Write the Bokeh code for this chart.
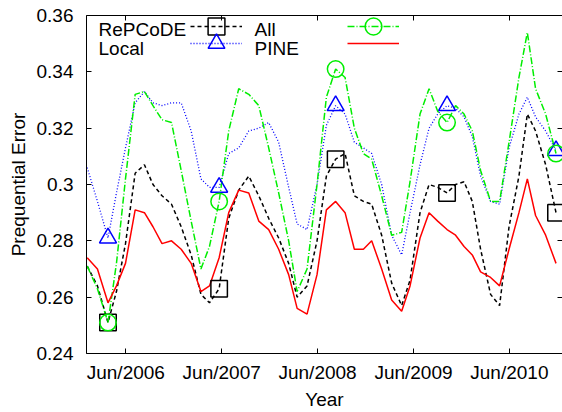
from bokeh.plotting import figure
from bokeh.models import (Range1d, FixedTicker, LinearAxis, NumeralTickFormatter,
                          Legend, LegendItem, Label, ColumnDataSource,
                          CustomLabelingPolicy)
from bokeh.core.properties import value
from bokeh.embed import file_html
from bokeh.resources import INLINE

# x: months since Jan 2006
months = [0.17, 1.45, 2.77, 3.83, 4.96, 6.17, 7.33, 8.40, 9.53, 10.72,
          11.93, 13.18, 14.40, 15.47, 16.68, 17.88, 19.13, 20.39, 21.64, 22.88,
          24.13, 25.38, 26.44, 27.68, 28.93, 30.10, 31.26, 32.44, 33.60, 34.73,
          35.77, 37.02, 38.27, 39.52, 40.57, 41.82, 42.95, 44.03, 45.20, 46.27,
          47.33, 48.36, 49.40, 50.65, 51.78, 52.96, 54.20, 55.25, 56.28, 57.54,
          58.84]

repcode = [0.271, 0.264, 0.251, 0.262, 0.279, 0.304, 0.307, 0.300, 0.296, 0.293,
           0.285, 0.275, 0.261, 0.258, 0.263, 0.288, 0.298, 0.303, 0.296, 0.288,
           0.281, 0.272, 0.260, 0.264, 0.280, 0.303, 0.309, 0.311, 0.296, 0.294,
           0.293, 0.282, 0.265, 0.257, 0.266, 0.290, 0.300, 0.299, 0.297, 0.300,
           0.301, 0.294, 0.277, 0.261, 0.257, 0.285, 0.303, 0.325, 0.319, 0.307,
           0.290]

local = [0.306, 0.294, 0.281, 0.297, 0.313, 0.329, 0.333, 0.329, 0.328, 0.329,
         0.329, 0.319, 0.302, 0.299, 0.299, 0.311, 0.313, 0.319, 0.320, 0.322,
         0.315, 0.299, 0.286, 0.284, 0.300, 0.321, 0.328, 0.325, 0.315, 0.313,
         0.311, 0.300, 0.282, 0.275, 0.290, 0.307, 0.320, 0.325, 0.328, 0.327,
         0.324, 0.317, 0.303, 0.294, 0.293, 0.313, 0.325, 0.331, 0.324, 0.319,
         0.312]

all_ = [0.271, 0.263, 0.251, 0.272, 0.302, 0.332, 0.333, 0.328, 0.323, 0.322,
        0.305, 0.287, 0.270, 0.278, 0.294, 0.319, 0.334, 0.332, 0.328, 0.313,
        0.297, 0.280, 0.262, 0.270, 0.300, 0.331, 0.341, 0.338, 0.320, 0.311,
        0.309, 0.296, 0.282, 0.283, 0.301, 0.325, 0.334, 0.326, 0.322, 0.328,
        0.325, 0.319, 0.305, 0.294, 0.294, 0.315, 0.338, 0.354, 0.334, 0.325,
        0.311]

pine = [0.274, 0.270, 0.258, 0.264, 0.272, 0.291, 0.290, 0.285, 0.279, 0.280,
        0.277, 0.272, 0.262, 0.264, 0.274, 0.290, 0.298, 0.297, 0.287, 0.284,
        0.277, 0.268, 0.256, 0.254, 0.268, 0.291, 0.294, 0.290, 0.277, 0.277,
        0.280, 0.270, 0.259, 0.255, 0.264, 0.281, 0.290, 0.287, 0.284, 0.282,
        0.278, 0.275, 0.269, 0.267, 0.264, 0.277, 0.290, 0.302, 0.289, 0.282,
        0.272]

x_ticks = [5, 17, 29, 41, 53]
x_tick_labels = ["Jun/2006", "Jun/2007", "Jun/2008", "Jun/2009", "Jun/2010"]
y_ticks = [0.24, 0.26, 0.28, 0.30, 0.32, 0.34, 0.36]
marker_start, marker_step = 2, 12

FONT = "Liberation Sans"
FS = "19px"

p = figure(width=562, height=412, output_backend="svg", toolbar_location=None,
           x_range=Range1d(0.08, 59.65), y_range=Range1d(0.24, 0.36),
           min_border_left=86, min_border_right=0, min_border_top=15,
           min_border_bottom=59, x_axis_label="Year",
           y_axis_label="Prequential Error")
p.grid.visible = False
p.outline_line_color = None

xa = p.below[0]
xa.ticker = FixedTicker(ticks=x_ticks)
xa.major_label_overrides = dict(zip(x_ticks, x_tick_labels))
ya = p.left[0]
ya.ticker = FixedTicker(ticks=y_ticks)
ya.formatter = NumeralTickFormatter(format="0.[00]")

for ax in (xa, ya):
    ax.major_tick_in = 5
    ax.major_tick_out = 0
    ax.minor_tick_line_color = None
    ax.axis_line_color = "black"
    ax.major_tick_line_color = "black"
    ax.major_label_text_font = FONT
    ax.major_label_text_font_size = FS
    ax.major_label_text_color = "black"
    ax.axis_label_text_font = FONT
    ax.axis_label_text_font_size = FS
    ax.axis_label_text_font_style = "normal"
    ax.axis_label_text_color = "black"
xa.major_label_standoff = 8
xa.axis_label_standoff = 3
ya.major_label_standoff = 13
ya.axis_label_standoff = 5

# mirror axes (ticks only, no labels)
top = LinearAxis(ticker=FixedTicker(ticks=x_ticks), major_label_text_font_size="0px",
                 major_label_policy=CustomLabelingPolicy(code="return []"),
                 major_tick_in=5, major_tick_out=0, major_label_standoff=0,
                 minor_tick_line_color=None, axis_line_color="black")
p.add_layout(top, "above")
right = LinearAxis(ticker=FixedTicker(ticks=y_ticks), major_label_text_font_size="0px",
                   major_label_policy=CustomLabelingPolicy(code="return []"),
                   major_tick_in=5, major_tick_out=0, major_label_standoff=0,
                   minor_tick_line_color=None, axis_line_color=None)
p.add_layout(right, "right")

src = ColumnDataSource(dict(m=months, repcode=repcode, local=local, all=all_, pine=pine))
msrc = ColumnDataSource(dict(m=months[marker_start::marker_step],
                             repcode=repcode[marker_start::marker_step],
                             local=local[marker_start::marker_step],
                             all=all_[marker_start::marker_step]))

GREEN = "#00ee00"
l_rep = p.line("m", "repcode", source=src, line_color="black", line_dash="4 3", line_width=1.5)
l_loc = p.line("m", "local", source=src, line_color="#0000ff", line_dash="1 2", line_width=1.3)
l_all = p.line("m", "all", source=src, line_color=GREEN, line_dash="7 2 1 2", line_width=1.5)
l_pine = p.line("m", "pine", source=src, line_color="#ff0000", line_width=1.5)

s_rep = p.scatter("m", "repcode", source=msrc, marker="square", size=16.5,
                  fill_color=None, line_color="black", line_width=1.5)
s_loc = p.scatter("m", "local", source=msrc, marker="triangle", size=17,
                  fill_color=None, line_color="#0000ff", line_width=1.5)
s_all = p.scatter("m", "all", source=msrc, marker="circle", size=16.5,
                  fill_color=None, line_color=GREEN, line_width=1.5)


def sample(renderers, x, y):
    lg = Legend(items=[LegendItem(label=value("\u00a0"), renderers=renderers)],
                location=(x, y), padding=0, margin=0, spacing=0,
                glyph_width=52, glyph_height=42, label_standoff=0,
                label_width=0, label_height=0, label_text_font=FONT,
                label_text_font_size=FS, border_line_color=None,
                background_fill_alpha=0)
    p.add_layout(lg)


# legend samples (screen px relative to the plot frame)
sample([l_rep, s_rep], 104, 306)
sample([l_loc, s_loc], 104, 289)
sample([l_all, s_all], 261, 306)
sample([l_pine], 261, 289)

for txt, x, y in [("RePCoDE", 12, 324), ("Local", 12, 305),
                  ("All", 168, 324), ("PINE", 168, 305)]:
    p.add_layout(Label(x=x, y=y, x_units="screen", y_units="screen", text=txt,
                       text_font=FONT, text_font_size=FS, text_color="black",
                       text_align="left", text_baseline="alphabetic"))

open("out.html", "w").write(file_html(p, INLINE))
